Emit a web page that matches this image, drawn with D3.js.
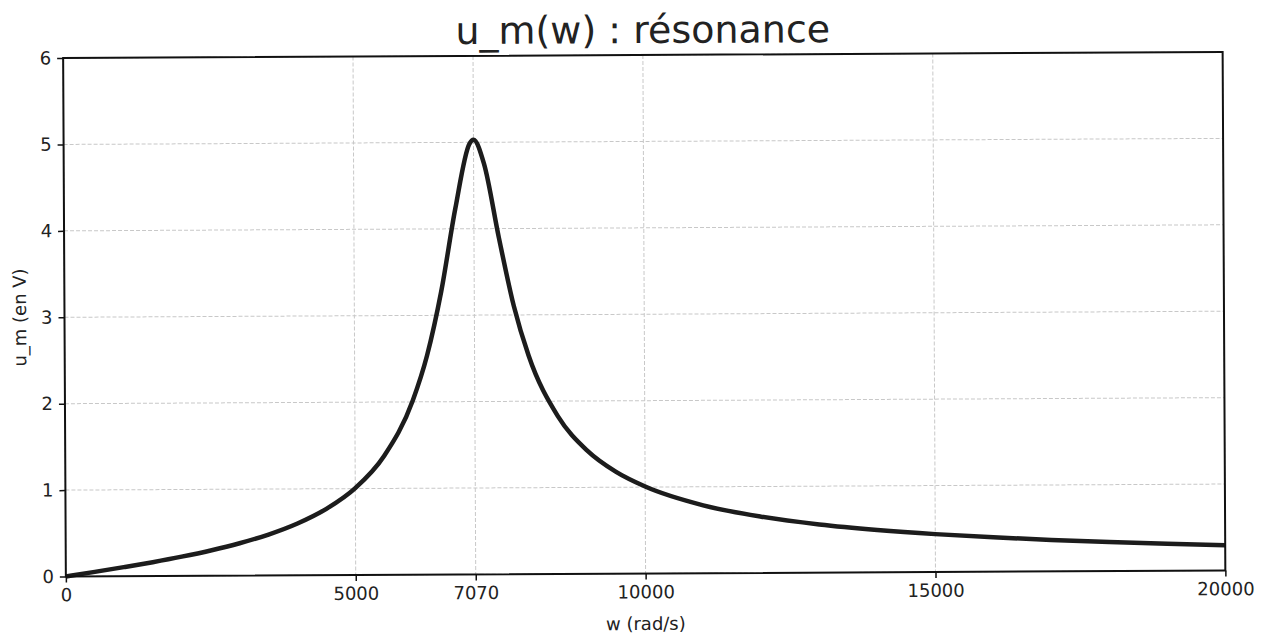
<!DOCTYPE html>
<html>
<head>
<meta charset="utf-8">
<script src="https://cdn.jsdelivr.net/npm/d3@7"></script>
<style>
  body { margin: 0; background: #fff; }
  svg { display: block; font-family: "DejaVu Sans", sans-serif; }
  .grid line { stroke: #c8c8c8; stroke-width: 1; stroke-dasharray: 4,2; }
  .tick text { fill: #222; }
</style>
</head>
<body>
<svg id="chart" width="1272" height="637"></svg>
<script>
"use strict";

// values (w in rad/s, u_m in V)
var wValues = [0, 500, 1000, 1500, 2000, 2500, 3000, 3500, 4000, 4500, 5000, 5500,
  6000, 6250, 6500, 6750, 7000, 7070, 7250, 7500, 7750, 8000, 8500, 9000, 9500,
  10000, 11000, 12000, 13000, 14000, 15000, 16000, 17000, 18000, 19000, 20000];
var uValues = [0, 0.052, 0.105, 0.161, 0.223, 0.293, 0.375, 0.474, 0.600, 0.768, 1.006, 1.376,
  2.017, 2.536, 3.275, 4.232, 4.983, 5.03, 4.750, 3.893, 3.106, 2.532, 1.826, 1.428, 1.177,
  1.006, 0.785, 0.650, 0.557, 0.490, 0.438, 0.397, 0.364, 0.336, 0.313, 0.293];

var xTicks = [0, 5000, 7070, 10000, 15000, 20000];
var yTicks = [0, 1, 2, 3, 4, 5, 6];

var title = 'u_m(w) : résonance';
var xLabel = 'w (rad/s)';
var yLabel = 'u_m (en V)';

var margin = { left: 64.5, right: 1224, top: 55, bottom: 573.5 };

var svg = d3.select('#chart');
// the scan is very slightly tilted
var g = svg.append('g')
  .attr('transform', 'rotate(-0.3,644,316)');

var x = d3.scaleLinear().domain([0, 20000]).range([margin.left, margin.right]);
var y = d3.scaleLinear().domain([0, 6]).range([margin.bottom, margin.top]);

// grid
var grid = g.append('g').attr('class', 'grid');
grid.selectAll('line.gx')
  .data(xTicks)
  .enter()
  .append('line')
  .attr('class', 'gx')
  .attr('x1', d => x(d)).attr('x2', d => x(d))
  .attr('y1', margin.top).attr('y2', margin.bottom);
grid.selectAll('line.gy')
  .data(yTicks)
  .enter()
  .append('line')
  .attr('class', 'gy')
  .attr('x1', margin.left).attr('x2', margin.right)
  .attr('y1', d => y(d)).attr('y2', d => y(d));

// curve
var points = wValues.map((w, i) => [w, uValues[i]]);
var line = d3.line()
  .x(d => x(d[0]))
  .y(d => y(d[1]))
  .curve(d3.curveMonotoneX);

g.append('path')
  .datum(points)
  .attr('d', line)
  .attr('fill', 'none')
  .attr('stroke', '#1c1c1c')
  .attr('stroke-width', 4.5)
  .attr('stroke-linejoin', 'round');

// frame
g.append('rect')
  .attr('x', margin.left)
  .attr('y', margin.top)
  .attr('width', margin.right - margin.left)
  .attr('height', margin.bottom - margin.top)
  .attr('fill', 'none')
  .attr('stroke', '#111')
  .attr('stroke-width', 2);

// axes
var xAxis = d3.axisBottom(x).tickValues(xTicks).tickFormat(d3.format('d')).tickSize(6).tickPadding(6);
var yAxis = d3.axisLeft(y).tickValues(yTicks).tickFormat(d3.format('d')).tickSize(6).tickPadding(6);

var gx = g.append('g')
  .attr('transform', 'translate(0,' + margin.bottom + ')')
  .call(xAxis);
var gy = g.append('g')
  .attr('transform', 'translate(' + margin.left + ',0)')
  .call(yAxis);

[gx, gy].forEach(a => {
  a.select('.domain').remove();
  a.selectAll('.tick line').attr('stroke', '#111').attr('stroke-width', 1.5);
  a.selectAll('.tick text').attr('font-size', 18).attr('font-family', '"DejaVu Sans", sans-serif');
});

// labels
g.append('text')
  .attr('x', (margin.left + margin.right) / 2)
  .attr('y', 43)
  .attr('text-anchor', 'middle')
  .attr('font-size', 38)
  .attr('fill', '#222')
  .text(title);

g.append('text')
  .attr('x', (margin.left + margin.right) / 2)
  .attr('y', 630)
  .attr('text-anchor', 'middle')
  .attr('font-size', 18)
  .attr('fill', '#222')
  .text(xLabel);

g.append('text')
  .attr('transform', 'translate(26,' + ((margin.top + margin.bottom) / 2) + ') rotate(-90)')
  .attr('text-anchor', 'middle')
  .attr('font-size', 18)
  .attr('fill', '#222')
  .text(yLabel);
</script>
</body>
</html>
